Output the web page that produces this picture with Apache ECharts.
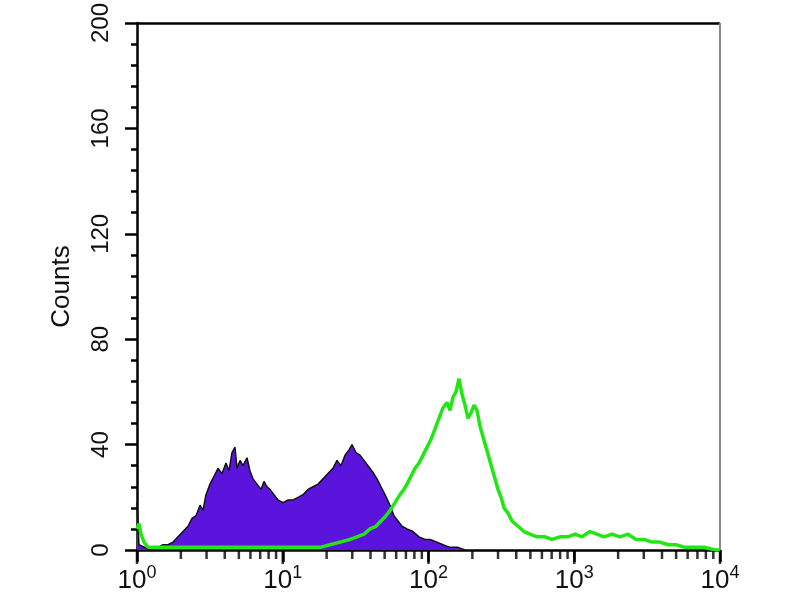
<!DOCTYPE html>
<html>
<head>
<meta charset="utf-8">
<script src="https://cdn.jsdelivr.net/npm/echarts@6/dist/echarts.min.js"></script>
<style>html,body{margin:0;padding:0;background:#fff}#c{width:800px;height:600px;background:#fff}</style>
</head>
<body>
<div id="c"></div>
<script>
// Channel values (fluorescence, log scale) and counts
var purpleX = [1.00,1.032,1.228,1.394,1.508,1.632,1.766,1.911,2.068,2.238,2.384,2.540,2.705,2.837,2.974,3.168,3.376,3.595,3.831,4.080,4.278,4.485,4.703,4.854,5.089,5.337,5.685,5.961,6.251,6.658,7.092,7.436,7.797,8.176,8.710,9.277,10.04,10.87,11.76,12.73,13.77,14.90,16.13,17.46,18.89,20.44,22.12,23.56,25.10,26.74,28.48,29.86,31.81,33.88,36.09,38.45,40.96,44.33,47.22,50.30,54.42,57.97,61.76,65.80,71.20,78.29,86.09,94.63,102.4,114.4,125.8,140.5,159.4,178.0];
var purpleY = [18,2,0,1,2,2,3,5,7,9,12,13,17,15,21,25,28,31,29,33,30,37,39,31,34,32,35,30,27,25,23,26,24,23,21,19,18,19,19,20,21,23,24,25,27,29,31,34,32,36,38,40,37,36,34,32,30,27,24,21,17,13,11,9,8,7,5,4,4,3,2,1,1,0];
var greenX = [1.00,1.032,1.065,1.117,1.190,1.329,1.684,2.705,5.961,13.13,18.02,21.10,24.71,28.93,32.32,36.09,39.68,43.63,47.22,51.10,54.42,58.91,63.75,67.90,71.20,75.84,80.80,86.09,91.70,97.66,104.0,110.8,118.0,125.8,134.0,140.5,147.3,154.4,161.9,169.8,178.0,186.6,195.7,205.2,215.2,225.6,236.6,248.0,260.1,272.7,285.9,299.9,314.5,329.6,351.3,374.1,411.4,452.1,497.1,555.2,630.1,703.6,798.5,906.0,1012,1130,1283,1432,1600,1816,2061,2338,2653,3011,3416,3876,4398,4991,5754,6739,7892,9242,10000];
var greenY = [8,10,6,3,1,1,1,1,1,1,1,2,3,4,5,6,8,9,11,13,15,18,21,23,25,28,31,33,36,39,42,46,50,54,56,53,58,60,65,59,55,50,52,55,53,47,43,39,35,31,27,23,20,16,14,11,9,7,6,5,5,4,5,5,6,5,7,6,5,6,5,6,4,4,3,3,2,2,1,1,1,0,0];
var yTicks = [0,40,80,120,160,200];
var xMajorTicks = [1,10,100,1000,10000];
var xMinorTicks = [2,3,4,5,6,7,8,9,20,30,40,50,60,70,80,90,200,300,400,500,600,700,800,900,2000,3000,4000,5000,6000,7000,8000,9000];

function pairs(xs, ys){ return xs.map(function(x,i){ return [x, ys[i]]; }); }

var chart = echarts.init(document.getElementById('c'));
var font = 'Liberation Sans, Arial, sans-serif';
var xMin = xMajorTicks[0], xMax = xMajorTicks[xMajorTicks.length-1];
var yMin = yTicks[0], yMax = yTicks[yTicks.length-1];
chart.setOption({
  animation: false,
  grid: {left: 137, right: 80, top: 20, bottom: 50},
  xAxis: [{
    type: 'log', logBase: 10, min: xMin, max: xMax, position: 'bottom',
    axisLine: {show: true, onZero: false, lineStyle: {color: '#000', width: 2.5}},
    axisTick: {show: true, length: 12, lineStyle: {color: '#000', width: 2.5}},
    splitLine: {show: false},
    axisLabel: {
      margin: 14,
      formatter: function(v){ return '{b|10}{s|' + Math.round(Math.log10(v)) + '}'; },
      rich: {
        b: {fontSize: 26, fontFamily: font, color: '#111', lineHeight: 30, verticalAlign: 'bottom'},
        s: {fontSize: 18, fontFamily: font, color: '#111', lineHeight: 30, verticalAlign: 'top', padding: [0,0,12,0]}
      }
    }
  }],
  yAxis: [{
    type: 'value', min: yMin, max: yMax, interval: 40,
    name: 'Counts', nameLocation: 'middle', nameGap: 62, nameRotate: 90,
    nameTextStyle: {fontSize: 26, fontFamily: font, color: '#111'},
    axisLine: {show: true, lineStyle: {color: '#000', width: 2.5}},
    axisTick: {show: true, length: 12, lineStyle: {color: '#000', width: 2.5}},
    minorTick: {show: true, splitNumber: 5, length: 6, lineStyle: {color: '#000', width: 2.5}},
    splitLine: {show: false},
    axisLabel: {rotate: 90, margin: 24, fontSize: 24, fontFamily: font, color: '#111'}
  }],
  series: [{
    type: 'line', name: 'control', data: pairs(purpleX, purpleY),
    symbol: 'none', smooth: false, z: 2,
    lineStyle: {color: '#111', width: 1.5},
    areaStyle: {color: '#5a14dc', opacity: 1},
    markLine: {
      silent: true, symbol: 'none', label: {show: false},
      data: [
        {yAxis: yMax, lineStyle: {color: '#000', width: 2.5, type: 'solid'}},
        {xAxis: xMax, lineStyle: {color: '#888', width: 2, type: 'solid'}}
      ]
    }
  }, {
    type: 'line', name: 'sample', data: pairs(greenX, greenY),
    symbol: 'none', smooth: false, z: 3,
    lineStyle: {color: '#22e614', width: 3.5}
  }, {
    type: 'scatter', name: 'minorTicks', silent: true, clip: false, z: 10,
    data: xMinorTicks.map(function(v){ return [v, yMin]; }),
    symbol: 'rect', symbolSize: [2.5, 8], symbolOffset: [0, 5],
    itemStyle: {color: '#000'}
  }, {
    type: 'scatter', name: 'majorTicks', silent: true, clip: false, z: 10,
    data: xMajorTicks.map(function(v){ return [v, yMin]; }),
    symbol: 'rect', symbolSize: [2.5, 13], symbolOffset: [0, 7.5],
    itemStyle: {color: '#000'}
  }]
});
</script>
</body>
</html>
